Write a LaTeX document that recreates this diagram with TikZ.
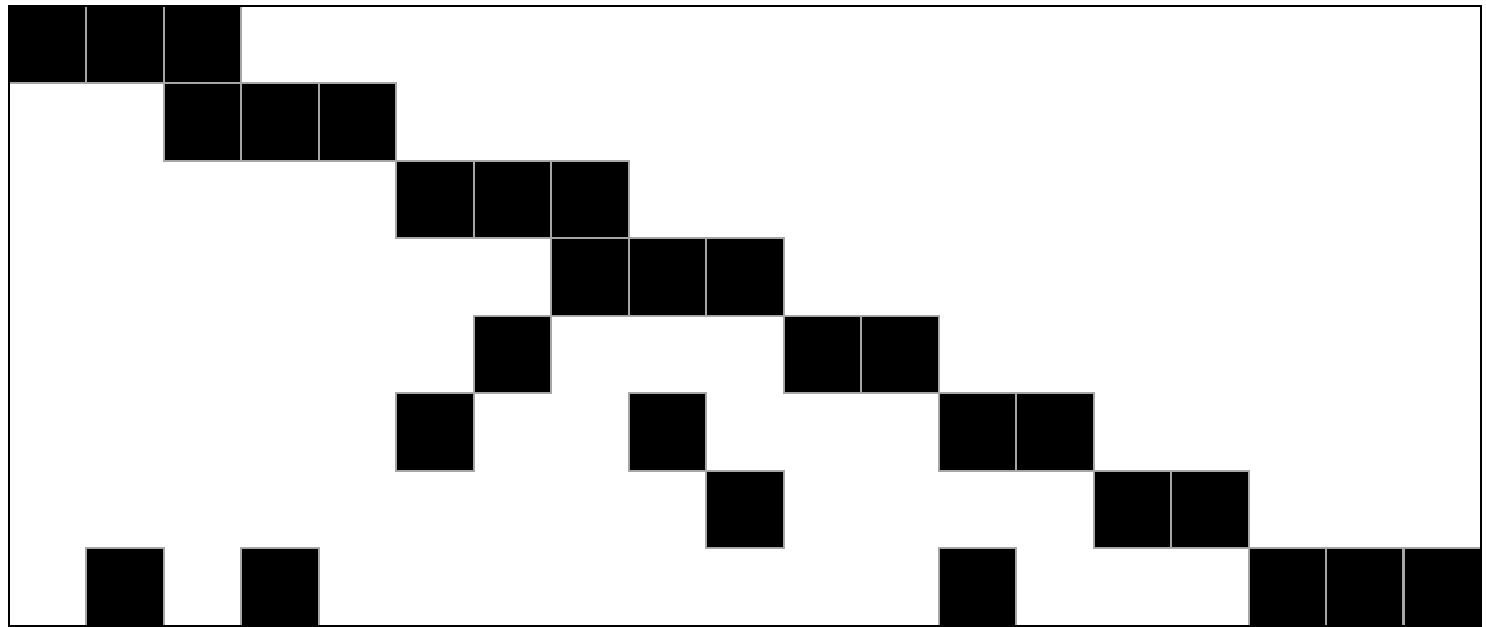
\documentclass[tikz,border=0pt]{standalone}
\begin{document}
\begin{tikzpicture}[
  cellbox/.style={draw=black!35, fill=black, line width=0.75pt, minimum size=1cm, inner sep=0pt, outer sep=0pt},
  framebox/.style={draw=black, line width=0.8pt}
]
\useasboundingbox (-0.116,-0.013) rectangle (19.065,8.077);
\foreach \c/\r in {0/0,1/0,2/0, 2/1,3/1,4/1, 5/2,6/2,7/2, 7/3,8/3,9/3,
  6/4,10/4,11/4, 5/5,8/5,12/5,13/5, 9/6,14/6,15/6, 1/7,3/7,12/7,16/7,17/7,18/7}{
  \node[cellbox] (c-\c-\r) at (\c+0.5,7.5-\r) {};
}
\draw[framebox] (0,0) rectangle (19,8);
\end{tikzpicture}
\end{document}
